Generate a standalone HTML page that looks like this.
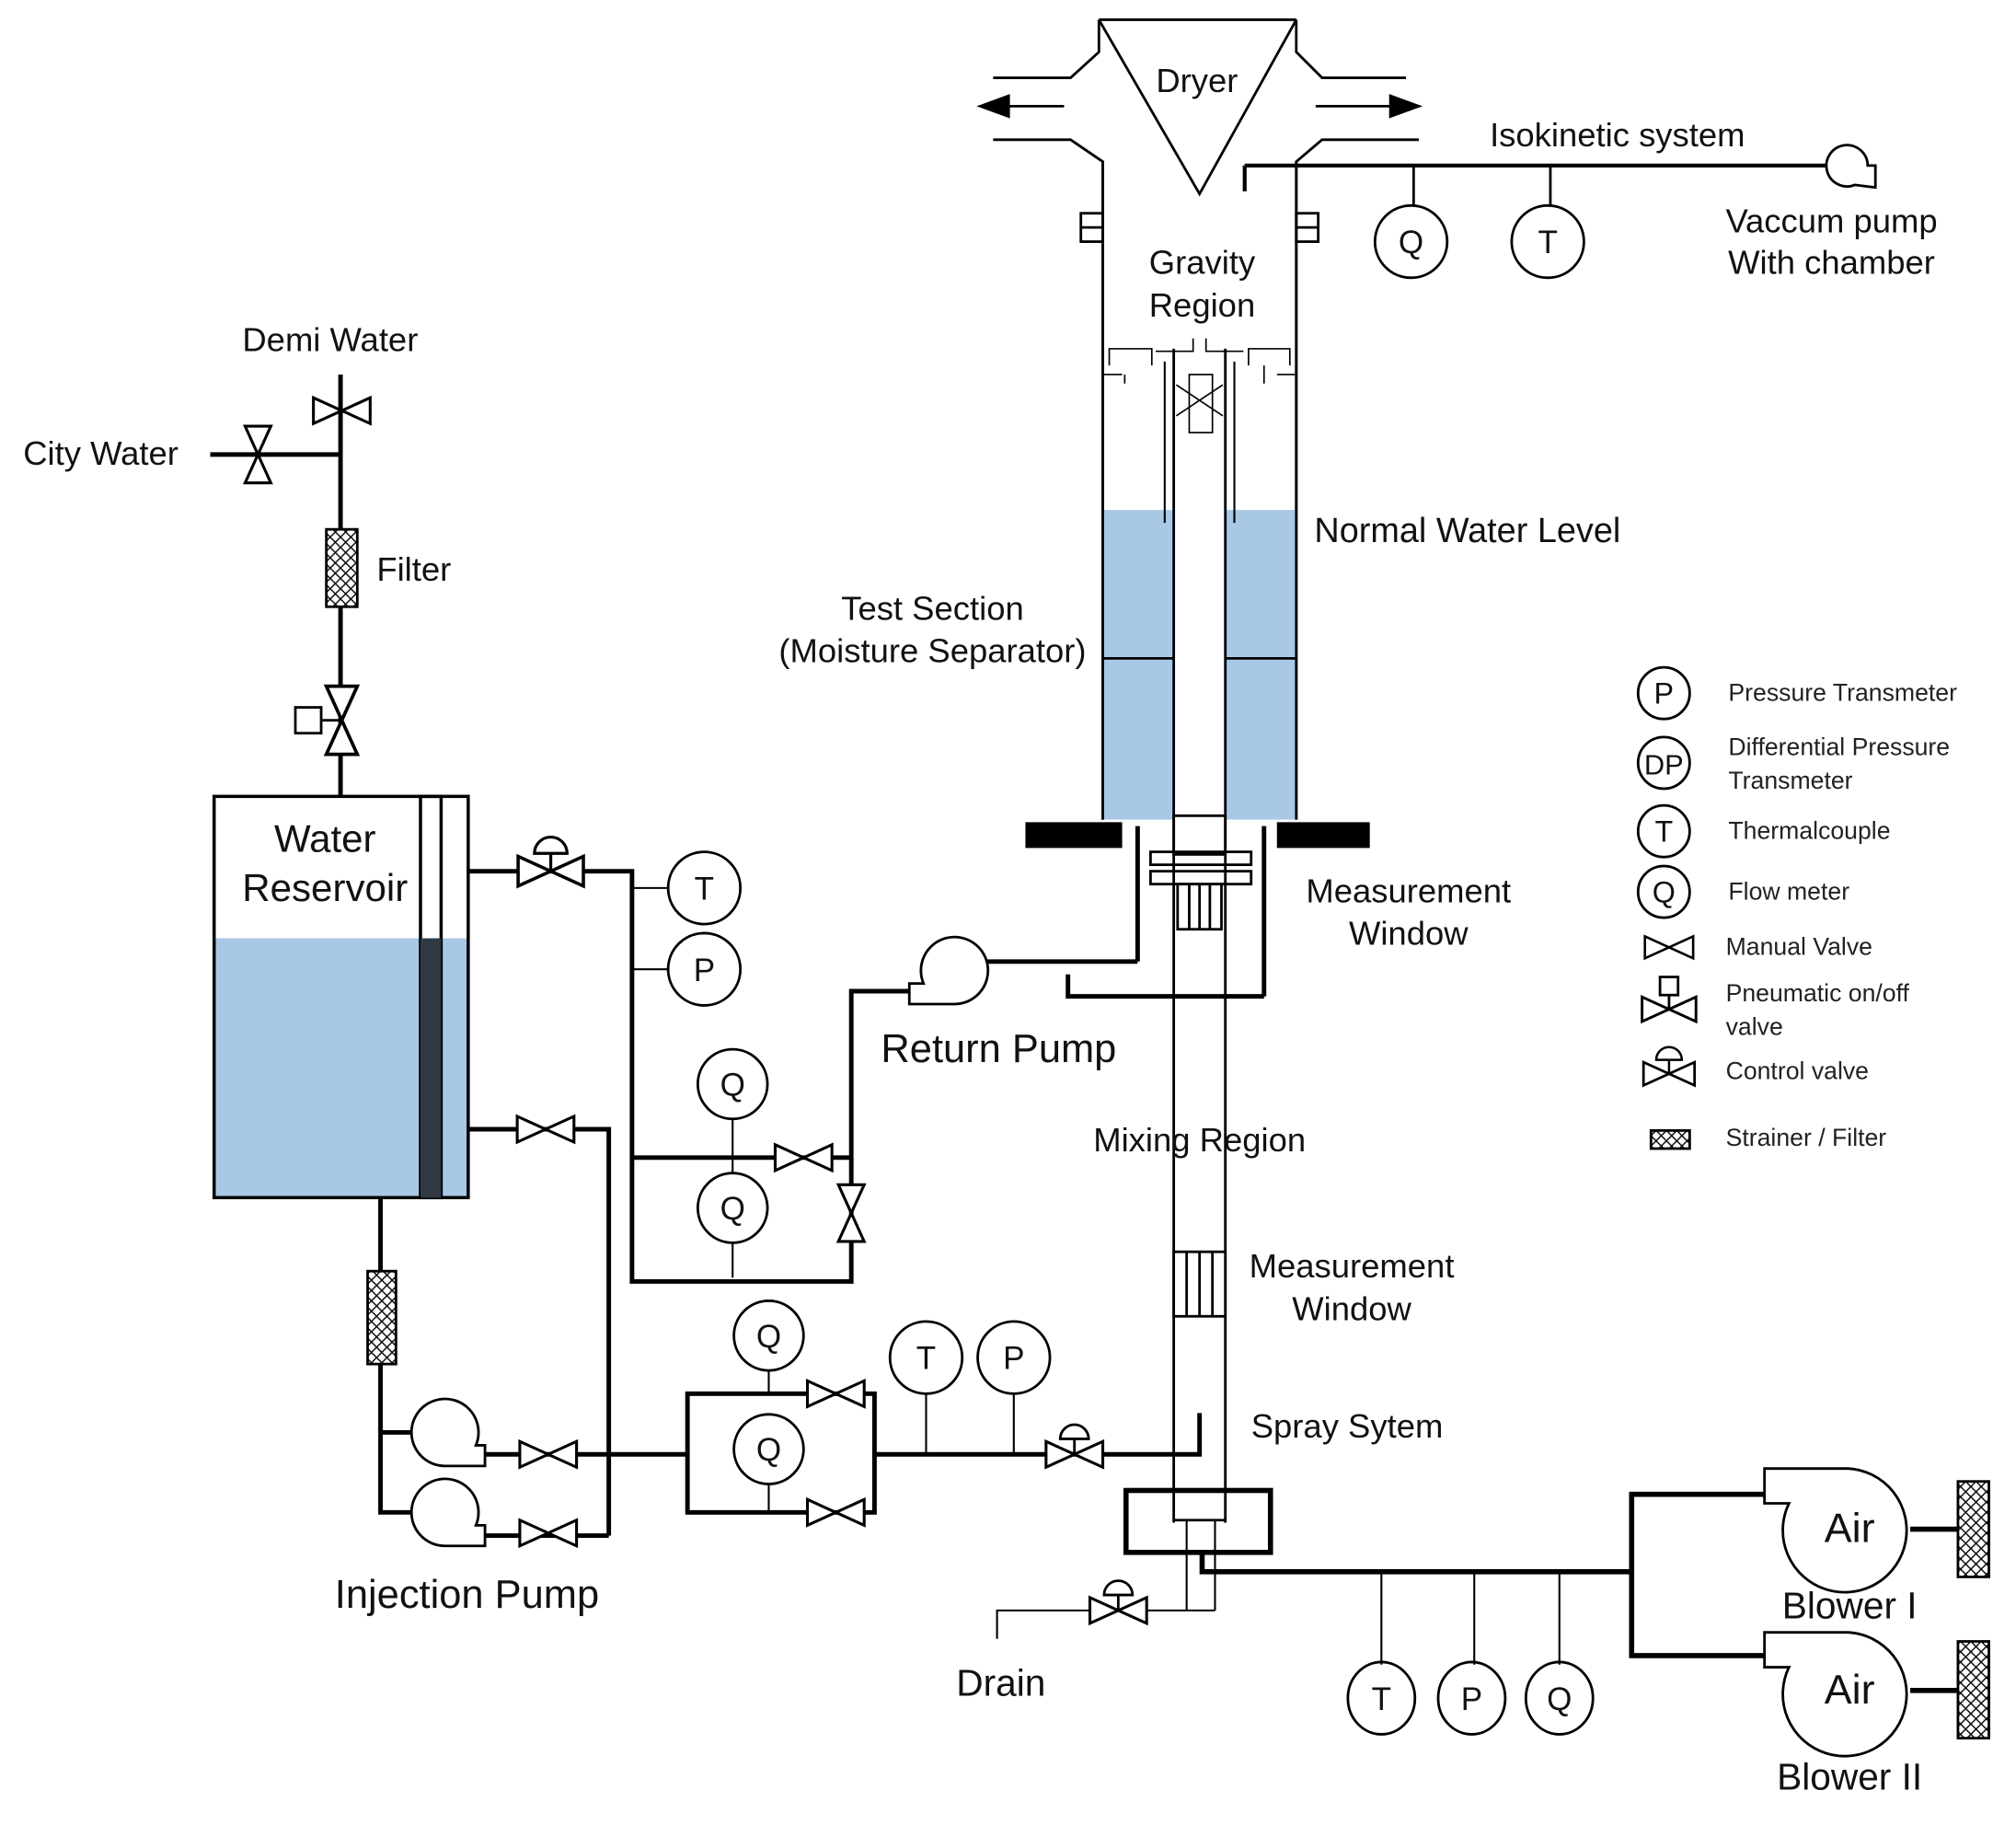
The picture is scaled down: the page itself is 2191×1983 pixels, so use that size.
<!DOCTYPE html>
<html><head><meta charset="utf-8"><style>html,body{margin:0;padding:0;background:#fff}svg{display:block}</style></head>
<body>
<svg width="2191" height="1983" viewBox="0 0 1563 1414" xmlns="http://www.w3.org/2000/svg" font-family="Liberation Sans, sans-serif">
<defs>
<g id="hv"><polygon points="-22,-10 -22,10 0,0" fill="#fff" stroke="#000" stroke-width="2.2"/><polygon points="22,-10 22,10 0,0" fill="#fff" stroke="#000" stroke-width="2.2"/></g>
<g id="cv"><use href="#hv"/><line x1="0" y1="0" x2="0" y2="-12" stroke="#000" stroke-width="2"/><path d="M-11,-12 A11 11 0 0 1 11,-12 Z" fill="#fff" stroke="#000" stroke-width="2"/></g>
<pattern id="hatch" width="8" height="8" patternUnits="userSpaceOnUse"><rect width="8" height="8" fill="#fff"/><path d="M0,0 L8,8 M8,0 L0,8" stroke="#000" stroke-width="1"/></pattern>
</defs>
<rect width="1563" height="1414" fill="#fff"/>
<g fill="none" stroke="#000" stroke-width="2">
<line x1="852" y1="15" x2="1005" y2="15"/>
<polyline points="852,15 930,150 1005,15"/>
<polyline points="770,60 830,60 852,40 852,15"/>
<polyline points="1005,15 1005,40 1025,60 1090,60"/>
<polyline points="770,108 830,108 855,125 855,635"/>
<polyline points="1100,108 1025,108 1005,125 1005,635"/>
<line x1="780" y1="82" x2="825" y2="82"/><polygon points="760,82 782,74 782,90" fill="#000"/>
<line x1="1020" y1="82" x2="1080" y2="82"/><polygon points="1100,82 1078,74 1078,90" fill="#000"/>
<rect x="838" y="165" width="17" height="22"/><line x1="838" y1="176" x2="855" y2="176"/>
<rect x="1005" y="165" width="17" height="22"/><line x1="1005" y1="176" x2="1022" y2="176"/>
</g>
<rect x="855" y="395" width="55" height="240" fill="#a8c8e6"/>
<rect x="950" y="395" width="55" height="240" fill="#a8c8e6"/>
<g fill="none" stroke="#000" stroke-width="2">
<line x1="855" y1="125" x2="855" y2="635"/><line x1="1005" y1="125" x2="1005" y2="635"/>
<line x1="855" y1="510" x2="910" y2="510"/><line x1="950" y1="510" x2="1005" y2="510"/>
<line x1="910" y1="270" x2="910" y2="1180"/><line x1="950" y1="270" x2="950" y2="1180"/>
<line x1="903" y1="280" x2="903" y2="405" stroke-width="1.5"/><line x1="957" y1="280" x2="957" y2="405" stroke-width="1.5"/>
<g stroke-width="1.2">
<line x1="855" y1="290" x2="870" y2="290"/><line x1="990" y1="290" x2="1005" y2="290"/>
<polyline points="860,283 860,270 893,270 893,283"/><polyline points="872,297 872,290 M882,297 882,283 892,283 892,278"/>
<polyline points="896,272 925,272 925,262"/><polyline points="935,262 935,272 964,272"/>
<polyline points="968,283 968,270 1000,270 1000,283"/><polyline points="980,297 980,283 M990,297 990,283"/>
<rect x="922" y="290" width="18" height="45"/><line x1="912" y1="298" x2="948" y2="322"/><line x1="912" y1="322" x2="948" y2="298"/>
</g>
<line x1="965" y1="128" x2="1420" y2="128" stroke-width="3"/><line x1="965" y1="128" x2="965" y2="148" stroke-width="3"/>
<line x1="1096" y1="128" x2="1096" y2="160"/><line x1="1202" y1="128" x2="1202" y2="160"/>
<circle cx="1094" cy="187" r="28"/><circle cx="1200" cy="187" r="28"/>
<path d="M1438,143 A16 16 0 1 1 1448,128 L1454,128 L1454,145 Z" fill="#fff"/>
</g>
<rect x="795" y="637" width="75" height="20" fill="#000"/><rect x="990" y="637" width="72" height="20" fill="#000"/>
<g fill="none" stroke="#000" stroke-width="2">
<rect x="910" y="632" width="40" height="30"/>
<line x1="882" y1="640" x2="882" y2="745" stroke-width="3.5"/><line x1="980" y1="640" x2="980" y2="772" stroke-width="3.5"/>
<rect x="892" y="660" width="78" height="10"/><rect x="892" y="675" width="78" height="10"/>
<rect x="913" y="685" width="34" height="35"/><line x1="922" y1="685" x2="922" y2="720"/><line x1="930" y1="685" x2="930" y2="720"/><line x1="938" y1="685" x2="938" y2="720"/>
<polyline points="764,745 882,745" stroke-width="3.5"/>
<polyline points="828,755 828,772 980,772" stroke-width="3.5"/>
<rect x="910" y="970" width="40" height="50" fill="#fff"/><line x1="920" y1="970" x2="920" y2="1020"/><line x1="930" y1="970" x2="930" y2="1020"/><line x1="940" y1="970" x2="940" y2="1020"/>
<polyline points="855,1127 930,1127 930,1095" stroke-width="3.5"/>
<rect x="873" y="1155" width="112" height="48" stroke-width="4"/>
<line x1="910" y1="1178" x2="950" y2="1178"/>
<line x1="920" y1="1178" x2="920" y2="1248" stroke-width="1.5"/><line x1="942" y1="1178" x2="942" y2="1248" stroke-width="1.5"/>
<polyline points="773,1270 773,1248 942,1248" stroke-width="1.5"/>
<polyline points="932,1203 932,1218 1265,1218" stroke-width="4"/>
<line x1="1071" y1="1218" x2="1071" y2="1290" stroke-width="1.5"/><line x1="1143" y1="1218" x2="1143" y2="1290" stroke-width="1.5"/><line x1="1209" y1="1218" x2="1209" y2="1290" stroke-width="1.5"/>
<ellipse cx="1071" cy="1316" rx="26" ry="28"/><ellipse cx="1141" cy="1316" rx="26" ry="28"/><ellipse cx="1209" cy="1316" rx="26" ry="28"/>
<polyline points="1370,1158 1265,1158 1265,1283 1370,1283" stroke-width="4"/>
<path d="M1368,1138 H1433 A48 48 0 1 1 1387,1165 H1368 Z" fill="#fff"/>
<path d="M1368,1265 H1433 A48 48 0 1 1 1387,1292 H1368 Z" fill="#fff"/>
<line x1="1481" y1="1185" x2="1518" y2="1185" stroke-width="4"/><line x1="1481" y1="1310" x2="1518" y2="1310" stroke-width="4"/>
<rect x="1518" y="1148" width="24" height="74" fill="url(#hatch)"/><rect x="1518" y="1272" width="24" height="75" fill="url(#hatch)"/>
</g>
<use href="#cv" x="867" y="1248"/>
<g fill="none" stroke="#000" stroke-width="3.5">
<line x1="264" y1="290" x2="264" y2="617"/>
<line x1="163" y1="352" x2="264" y2="352"/>
</g>
<rect x="166" y="727" width="197" height="201" fill="#a8c8e6"/>
<g fill="none" stroke="#000" stroke-width="2.5">
<rect x="166" y="617" width="197" height="311"/>
<rect x="326" y="617" width="16" height="311"/>
</g>
<rect x="326" y="727" width="16" height="201" fill="#2f3a45"/>
<rect x="253" y="410" width="24" height="60" fill="url(#hatch)" stroke="#000" stroke-width="2"/>
<use href="#hv" x="265" y="318"/>
<use href="#hv" transform="translate(200,352) rotate(90)"/>
<use href="#hv" transform="translate(265,558) rotate(90) scale(1.2)"/>
<rect x="229" y="548" width="20" height="20" fill="#fff" stroke="#000" stroke-width="2"/><line x1="249" y1="558" x2="265" y2="558" stroke="#000" stroke-width="2"/>
<g fill="none" stroke="#000" stroke-width="3.5">
<polyline points="363,675 490,675 490,993 660,993 660,768 705,768"/>
<polyline points="363,875 472,875 472,1190"/>
<line x1="490" y1="897" x2="660" y2="897"/>
<polyline points="295,928 295,1172 320,1172"/>
<line x1="295" y1="1110" x2="320" y2="1110"/>
<line x1="375" y1="1127" x2="533" y2="1127"/><line x1="375" y1="1190" x2="472" y2="1190"/>
<rect x="533" y="1080" width="145" height="92"/>
<line x1="678" y1="1127" x2="855" y2="1127"/>
</g>
<g fill="none" stroke="#000" stroke-width="1.5">
<line x1="490" y1="688" x2="518" y2="688"/><line x1="490" y1="751" x2="518" y2="751"/>
<line x1="568" y1="866" x2="568" y2="990"/>
<line x1="596" y1="1060" x2="596" y2="1080"/><line x1="596" y1="1148" x2="596" y2="1172"/>
<line x1="718" y1="1080" x2="718" y2="1127"/><line x1="786" y1="1080" x2="786" y2="1127"/>
</g>
<g fill="#fff" stroke="#000" stroke-width="2">
<circle cx="546" cy="688" r="28"/><circle cx="546" cy="751" r="28"/>
<circle cx="568" cy="840" r="27"/><circle cx="568" cy="936" r="27"/>
<circle cx="596" cy="1035" r="27"/><circle cx="596" cy="1123" r="27"/>
<circle cx="718" cy="1052" r="28"/><circle cx="786" cy="1052" r="28"/>
<rect x="285" y="985" width="22" height="72" fill="url(#hatch)"/>
<path d="M705,778 V762 H716 A26 26 0 1 1 740,778 Z"/>
<path d="M376,1136 H345 A26 26 0 1 1 369,1120 H376 Z"/>
<path d="M376,1198 H345 A26 26 0 1 1 369,1182 H376 Z"/>
</g>
<use href="#cv" transform="translate(427,675) scale(1.15)"/>
<use href="#hv" x="423" y="875"/>
<use href="#hv" x="623" y="897"/>
<use href="#hv" transform="translate(660,940) rotate(90)"/>
<use href="#hv" x="425" y="1127"/>
<use href="#hv" x="425" y="1188"/>
<use href="#hv" x="648" y="1080"/>
<use href="#hv" x="648" y="1172"/>
<use href="#cv" x="833" y="1127"/>
<g fill="none" stroke="#000" stroke-width="2">
<circle cx="1290" cy="537" r="20"/><circle cx="1290" cy="591" r="20"/><circle cx="1290" cy="644" r="20"/><circle cx="1290" cy="691" r="20"/>
<rect x="1280" y="876" width="30" height="14" fill="url(#hatch)"/>
</g>
<use href="#hv" transform="translate(1294,734) scale(0.85)"/>
<use href="#hv" transform="translate(1294,782) scale(0.95)"/>
<rect x="1287" y="757" width="14" height="14" fill="#fff" stroke="#000" stroke-width="2"/><line x1="1294" y1="771" x2="1294" y2="782" stroke="#000" stroke-width="2"/>
<use href="#cv" transform="translate(1294,832) scale(0.9)"/>
<g font-size="26" fill="#111">
<text x="928" y="71" text-anchor="middle">Dryer</text>
<text x="1155" y="113">Isokinetic system</text>
<text x="1420" y="180" text-anchor="middle">Vaccum pump</text>
<text x="1420" y="212" text-anchor="middle">With chamber</text>
<text x="932" y="212" text-anchor="middle">Gravity</text>
<text x="932" y="245" text-anchor="middle">Region</text>
<text x="1019" y="420" font-size="27">Normal Water Level</text>
<text x="723" y="480" text-anchor="middle">Test Section</text>
<text x="723" y="513" text-anchor="middle">(Moisture Separator)</text>
<text x="1092" y="699" text-anchor="middle">Measurement</text>
<text x="1092" y="732" text-anchor="middle">Window</text>
<text x="930" y="892" text-anchor="middle">Mixing Region</text>
<text x="1048" y="990" text-anchor="middle">Measurement</text>
<text x="1048" y="1023" text-anchor="middle">Window</text>
<text x="970" y="1114">Spray Sytem</text>
<text x="776" y="1314" text-anchor="middle" font-size="29">Drain</text>
<text x="1434" y="1254" text-anchor="middle" font-size="29">Blower I</text>
<text x="1434" y="1387" text-anchor="middle" font-size="29">Blower II</text>
<text x="1434" y="1195" text-anchor="middle" font-size="32">Air</text>
<text x="1434" y="1320" text-anchor="middle" font-size="32">Air</text>
<text x="256" y="272" text-anchor="middle">Demi Water</text>
<text x="18" y="360">City Water</text>
<text x="292" y="450">Filter</text>
<text x="252" y="660" text-anchor="middle" font-size="30">Water</text>
<text x="252" y="698" text-anchor="middle" font-size="30">Reservoir</text>
<text x="683" y="823" font-size="31">Return Pump</text>
<text x="362" y="1246" text-anchor="middle" font-size="31">Injection Pump</text>
</g>
<g font-size="25" text-anchor="middle" fill="#111">
<text x="1094" y="196">Q</text><text x="1200" y="196">T</text>
<text x="546" y="697">T</text><text x="546" y="760">P</text>
<text x="568" y="849">Q</text><text x="568" y="945">Q</text>
<text x="596" y="1044">Q</text><text x="596" y="1132">Q</text>
<text x="718" y="1061">T</text><text x="786" y="1061">P</text>
<text x="1071" y="1325">T</text><text x="1141" y="1325">P</text><text x="1209" y="1325">Q</text>
<text x="1290" y="545" font-size="23">P</text><text x="1290" y="600" font-size="22">DP</text><text x="1290" y="652" font-size="23">T</text><text x="1290" y="699" font-size="23">Q</text>
</g>
<g font-size="19" fill="#222">
<text x="1340" y="543">Pressure Transmeter</text>
<text x="1340" y="585">Differential Pressure</text>
<text x="1340" y="611">Transmeter</text>
<text x="1340" y="650">Thermalcouple</text>
<text x="1340" y="697">Flow meter</text>
<text x="1338" y="740">Manual Valve</text>
<text x="1338" y="776">Pneumatic on/off</text>
<text x="1338" y="802">valve</text>
<text x="1338" y="836">Control valve</text>
<text x="1338" y="888">Strainer / Filter</text>
</g>
</svg>
</body></html>
